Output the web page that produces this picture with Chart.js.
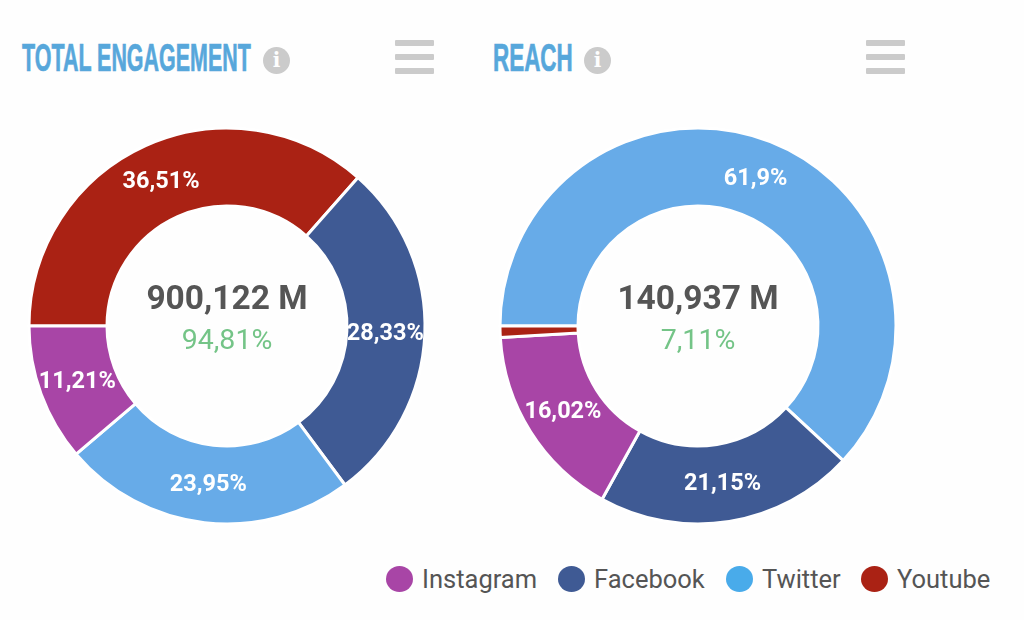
<!DOCTYPE html>
<html>
<head>
<meta charset="utf-8">
<script src="https://cdn.jsdelivr.net/npm/chart.js@4.4.6/dist/chart.umd.js"></script>
<style>
  html, body { margin: 0; padding: 0; background: #fefefe; }
  #page { position: relative; width: 1024px; height: 620px; overflow: hidden; font-family: Roboto, sans-serif; }
  canvas { position: absolute; top: 99px; }
  .title {
    position: absolute; top: 36px; color: #57a7db; font: bold 39px "Liberation Sans", sans-serif;
    -webkit-text-stroke: 0.7px #57a7db;
    white-space: nowrap; transform-origin: left center; transform: scaleX(0.55);
  }
  .info {
    position: absolute; top: 47px; width: 27px; height: 27px; border-radius: 50%; background: #cbcbcb;
    color: #fefefe; font: bold 20px/27px "DejaVu Serif", serif; text-align: center;
  }
  .menu { position: absolute; top: 40px; width: 39px; height: 34px; }
  .menu i { position: absolute; left: 0; width: 39px; height: 6px; border-radius: 1px; background: #cbcbcb; }
  #legend { position: absolute; top: 564px; left: 0; height: 32px; font-size: 25.5px; color: #555; }
  #legend span { position: absolute; top: 0; line-height: 30px; white-space: nowrap; }
  #legend b { position: absolute; top: 2px; width: 27px; height: 26px; border-radius: 50%; }
</style>
</head>
<body>
<div id="page">
  <div class="title" style="left:22px">TOTAL ENGAGEMENT</div>
  <div class="info" style="left:263px">i</div>
  <div class="menu" style="left:395px"><i style="top:0"></i><i style="top:14px"></i><i style="top:28px"></i></div>
  <div class="title" style="left:493px;transform:scaleX(0.575)">REACH</div>
  <div class="info" style="left:584px">i</div>
  <div class="menu" style="left:866px"><i style="top:0"></i><i style="top:14px"></i><i style="top:28px"></i></div>
  <canvas id="engagement" width="454" height="454" style="left:0"></canvas>
  <canvas id="reach" width="454" height="454" style="left:471px"></canvas>
  <div id="legend">
    <b style="left:386px;background:#a845a6"></b><span style="left:422px">Instagram</span>
    <b style="left:558px;background:#3f5a94"></b><span style="left:594px">Facebook</span>
    <b style="left:726px;background:#49abea"></b><span style="left:762px">Twitter</span>
    <b style="left:861px;background:#aa2214"></b><span style="left:897px">Youtube</span>
  </div>
</div>
<script>
const engagementLabels = ['Youtube', 'Facebook', 'Twitter', 'Instagram'];
const engagementValues = [36.51, 28.33, 23.95, 11.21];
const engagementText = ['36,51%', '28,33%', '23,95%', '11,21%'];

const reachLabels = ['Twitter', 'Facebook', 'Instagram', 'Youtube'];
const reachValues = [61.9, 21.15, 16.02, 0.93];
const reachText = ['61,9%', '21,15%', '16,02%', ''];

const COLORS = { Instagram: '#a845a6', Facebook: '#3f5a94', Twitter: '#67abe8', Youtube: '#aa2214' };

// slice labels and the two lines in the hole
const donutText = {
  id: 'donutText',
  afterDatasetsDraw(chart, args, opts) {
    const { ctx } = chart;
    const meta = chart.getDatasetMeta(0);
    const { x: cx, y: cy } = meta.data[0];
    ctx.save();
    ctx.textAlign = 'center';
    ctx.textBaseline = 'middle';
    ctx.fillStyle = '#fff';
    ctx.font = 'bold 23.5px Roboto';
    meta.data.forEach((arc, i) => {
      const pos = arc.tooltipPosition();
      ctx.fillText(opts.text[i], pos.x - 0.5, pos.y + 1.5);
    });
    ctx.fillStyle = '#555';
    ctx.font = 'bold 33.5px Roboto';
    ctx.fillText(opts.total, cx, cy - 25);
    ctx.fillStyle = '#74c487';
    ctx.font = '28.5px Roboto';
    ctx.fillText(opts.change, cx, cy + 16);
    ctx.restore();
  },
};

function makeDonut(id, labels, values, text, total, change) {
  return new Chart(document.getElementById(id), {
    type: 'doughnut',
    data: {
      labels,
      datasets: [{
        data: values,
        backgroundColor: labels.map((l) => COLORS[l]),
        borderColor: '#fff',
        borderWidth: 3,
      }],
    },
    options: {
      responsive: false,
      animation: false,
      rotation: -90,
      radius: 198,
      cutout: '60.6%',
      plugins: {
        legend: { display: false },
        tooltip: { enabled: false },
        donutText: { text, total, change },
      },
    },
    plugins: [donutText],
  });
}

makeDonut('engagement', engagementLabels, engagementValues, engagementText, '900,122 M', '94,81%');
makeDonut('reach', reachLabels, reachValues, reachText, '140,937 M', '7,11%');
</script>
</body>
</html>
